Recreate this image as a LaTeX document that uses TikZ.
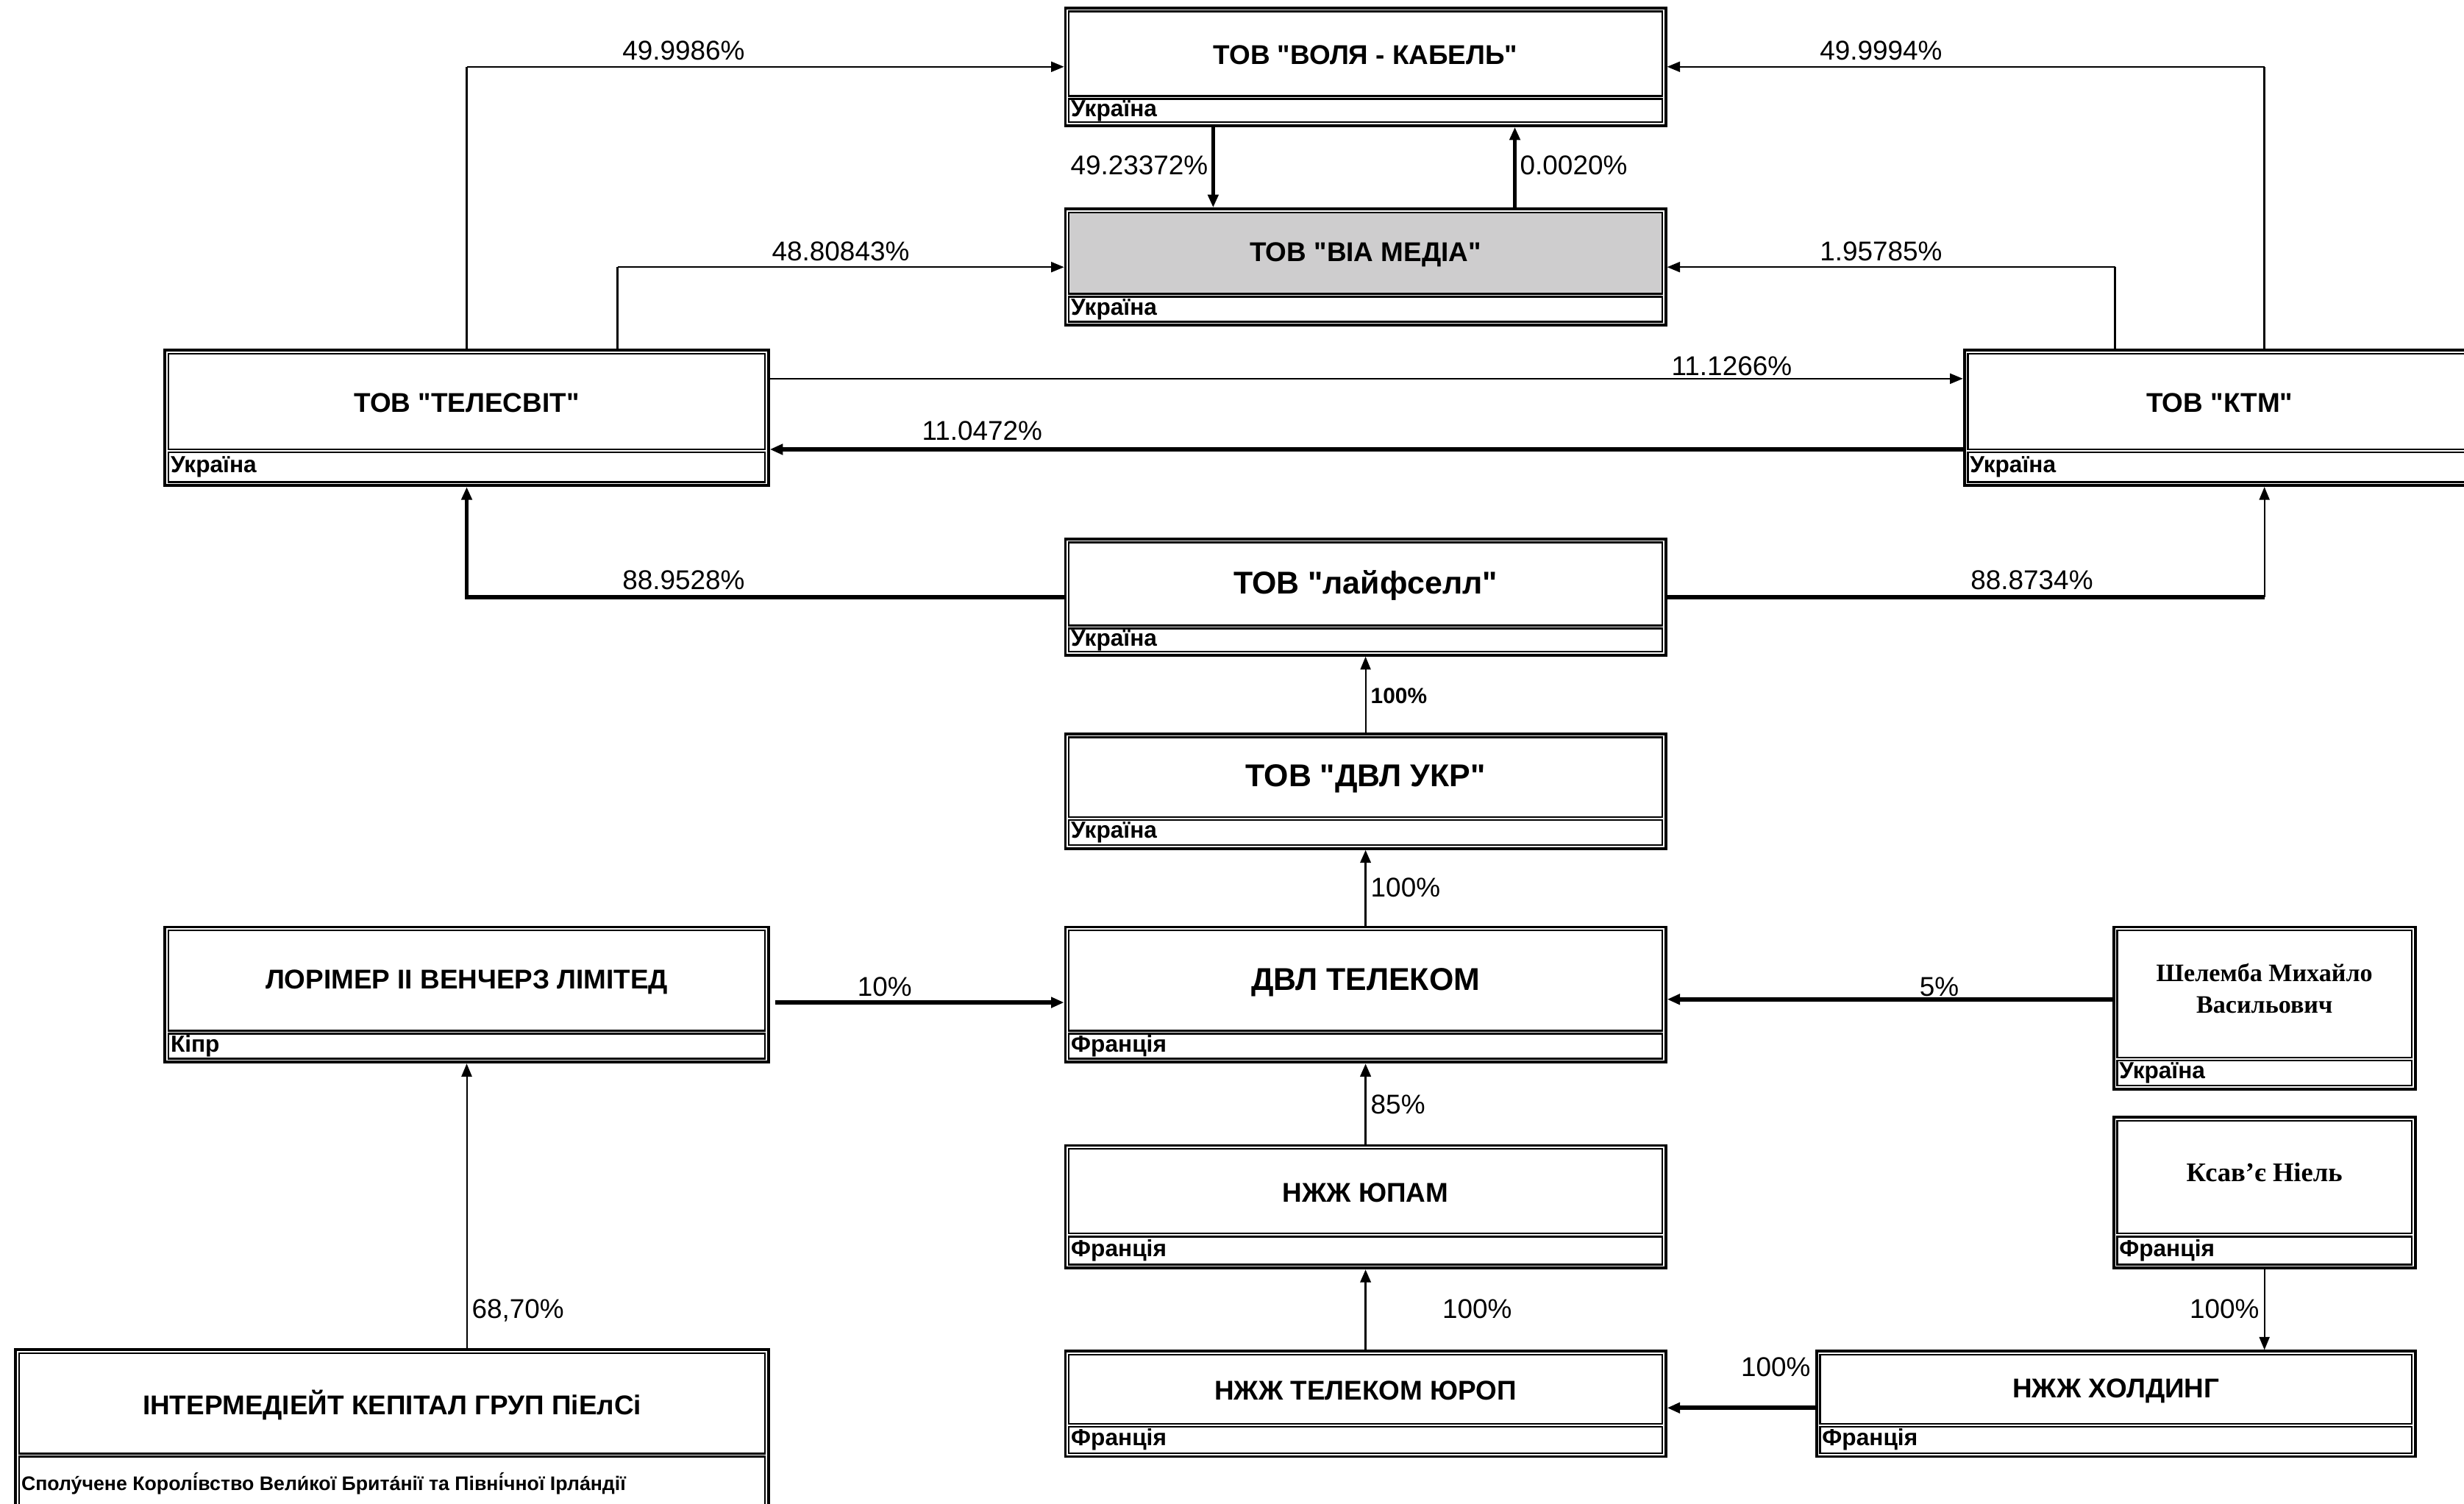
\documentclass[tikz,border=0pt]{standalone}
\usepackage{fontspec}
\setmainfont{Liberation Sans}[Ligatures=TeXOff]
\newfontfamily\serifb{Liberation Serif}[Ligatures=TeXOff]
\usetikzlibrary{fit,arrows.meta}
\definecolor{viagray}{RGB}{206,205,206}
\tikzset{
  outerbox/.style={draw, line width=1.1pt, inner sep=0pt},
  innerbox/.style={draw, line width=0.7pt, inner sep=0pt},
  titletext/.style={font=\fontsize{10.5}{12}\selectfont\bfseries, inner sep=0pt, align=center},
  bigtitle/.style={font=\fontsize{12.2}{14}\selectfont\bfseries},
  persontext/.style={font=\fontsize{10}{12.5}\selectfont\serifb\bfseries, inner sep=0pt, align=center},
  countrytext/.style={font=\fontsize{9}{10}\selectfont\bfseries, inner sep=1pt, anchor=west},
  pct/.style={font=\fontsize{10.5}{12}\selectfont, inner sep=0pt},
  pctb/.style={font=\fontsize{8.5}{10}\selectfont\bfseries, inner sep=0pt},
  tip/.style={-{Triangle[length=5pt,width=4pt]}},
  lthin/.style={line width=0.55pt},
  lmed/.style={line width=1.0pt},
  lthick/.style={line width=1.6pt},
  cthin/.style={tip, lthin},
  cmed/.style={tip, lmed},
  cthick/.style={tip, lthick},
}
% name, x1, y1, x2, y2, ydiv, title style, title, country
\newcommand\entbox[9]{%
  \node[outerbox, fit={(#2,#3) (#4,#5)}] (#1) {};
  \node[innerbox, fit={(#2+2.2,#3+2.2) (#4-2.2,#6-0.95)}] (#1-t) {};
  \node[innerbox, fit={(#2+2.2,#6+0.95) (#4-2.2,#5-2.2)}] (#1-c) {};
  \node[titletext, #7] (#1-tl) at ([yshift=-0.02cm]#1-t.center) {#8};
  \node[countrytext] (#1-cl) at (#1-c.west) {#9};
}
\begin{document}
\begin{tikzpicture}[x=0.021365cm, y=-0.021365cm]
\useasboundingbox (0,0) rectangle (1568,957);
\fill[white] (0,0) rectangle (1568,957);

\fill[viagray] (680.2,135.2) rectangle (1057.8,187.05);
\entbox{volya}{678}{5}{1060}{80}{62}{}{ТОВ "ВОЛЯ - КАБЕЛЬ"}{Україна}
\entbox{via}{678}{133}{1060}{207}{188}{}{ТОВ "ВІА МЕДІА"}{Україна}
\entbox{tel}{105}{223}{489}{309}{287}{}{ТОВ "ТЕЛЕСВІТ"}{Україна}
\entbox{ktm}{1250}{223}{1575}{309}{287}{}{ТОВ "КТМ"}{Україна}
\entbox{life}{678}{343}{1060}{417}{399}{bigtitle}{ТОВ "лайфселл"}{Україна}
\entbox{dvlukr}{678}{467}{1060}{540}{521}{bigtitle}{ТОВ "ДВЛ УКР"}{Україна}
\entbox{lor}{105}{590}{489}{676}{657}{}{ЛОРІМЕР ІІ ВЕНЧЕРЗ ЛІМІТЕД}{Кіпр}
\entbox{dvl}{678}{590}{1060}{676}{657}{bigtitle}{ДВЛ ТЕЛЕКОМ}{Франція}
\entbox{shel}{1345}{590}{1537}{693}{674}{}{}{Україна}
\entbox{ksav}{1345}{711}{1537}{807}{786}{}{}{Франція}
\entbox{yupam}{678}{729}{1060}{807}{786}{}{НЖЖ ЮПАМ}{Франція}
\entbox{tele}{678}{860}{1060}{927}{907}{}{НЖЖ ТЕЛЕКОМ ЮРОП}{Франція}
\entbox{hold}{1156}{860}{1537}{927}{907}{}{НЖЖ ХОЛДИНГ}{Франція}
\entbox{inter}{10}{859}{489}{964}{926}{}{ІНТЕРМЕДІЕЙТ КЕПІТАЛ ГРУП ПіЕлСі}{}

\node[persontext, font=\fontsize{9.7}{12.3}\selectfont\serifb\bfseries] (shel-p) at ([yshift=0.08cm]shel-t.center) {Шелемба Михайло\\Васильович};
\node[persontext, font=\fontsize{10.4}{12.5}\selectfont\serifb\bfseries] (ksav-p) at ([yshift=0.06cm]ksav-t.center) {Ксав’є Ніель};
\node[countrytext, font=\fontsize{7.6}{9}\selectfont\bfseries] (inter-cc) at (inter-c.west) {Сполу́чене Королі́вство Вели́кої Брита́нії та Півні́чної Ірла́ндії};

% helper coordinates
\coordinate (x393) at (393,0);
\coordinate (x1346) at (1346,0);
\coordinate (x1441) at (1441,0);
\coordinate (x772) at (772,0);
\coordinate (x964) at (964,0);
\coordinate (y241) at (0,241);
\coordinate (y286) at (0,286);
\coordinate (y638) at (0,638);
\coordinate (y636) at (0,636);
\coordinate (y896) at (0,896);

% corner points
\coordinate (k1) at (tel.north |- volya.west);
\coordinate (k2) at (x393 |- via.west);
\coordinate (k3) at (x1441 |- volya.east);
\coordinate (k4) at (x1346 |- via.east);
\coordinate (k5) at (x1441 |- life.east);

% connectors
\draw[lmed] (tel.north) -- (k1);
\draw[cthin] (k1) -- (volya.west);
\draw[lmed] (tel.north -| x393) -- (k2);
\draw[cthin] (k2) -- (via.west);
\draw[lmed] (ktm.north -| x1441) -- (k3);
\draw[cthin] (k3) -- (volya.east);
\draw[lmed] (ktm.north -| x1346) -- (k4);
\draw[cthin] (k4) -- (via.east);
\draw[cthick] (volya.south -| x772) -- (via.north -| x772);
\draw[cthick] (via.north -| x964) -- (volya.south -| x964);
\draw[cthin] (tel.east |- y241) -- (ktm.west |- y241);
\draw[cthick] (ktm.west |- y286) -- (tel.east |- y286);
\draw[cthick] (life.west) -| (tel.south);
\draw[lthick] (life.east) -- (k5);
\draw[cthin] (k5) -- (ktm.south -| x1441);
\draw[cthin] (dvlukr.north) -- (life.south);
\draw[cmed] (dvl.north) -- (dvlukr.south);
\draw[cthick, shorten <=2pt] (lor.east |- y638) -- (dvl.west |- y638);
\draw[cthick] (shel.west |- y636) -- (dvl.east |- y636);
\draw[cmed] (yupam.north) -- (dvl.south);
\draw[cmed] (tele.north) -- (yupam.south);
\draw[cthin] (ksav.south) -- (hold.north -| ksav.south);
\draw[cthick] (hold.west |- y896) -- (tele.east |- y896);
\draw[cthin] (inter.north -| lor.south) -- (lor.south);

% labels
\node[pct] (p1) at (435,32) {49.9986\%};
\node[pct] (p2) at (535,160) {48.80843\%};
\node[pct] (p3) at (1197,32) {49.9994\%};
\node[pct] (p4) at (1197,160) {1.95785\%};
\node[pct, anchor=east] (p5) at (769,105) {49.23372\%};
\node[pct, anchor=west] (p6) at (967,105) {0.0020\%};
\node[pct] (p7) at (1102,233) {11.1266\%};
\node[pct] (p8) at (625,274) {11.0472\%};
\node[pct] (p9) at (435,369) {88.9528\%};
\node[pct] (p10) at (1293,369) {88.8734\%};
\node[pctb, anchor=west] (p11) at (872,443) {100\%};
\node[pct, anchor=west] (p12) at (872,565) {100\%};
\node[pct] (p13) at (563,628) {10\%};
\node[pct] (p14) at (1234,628) {5\%};
\node[pct, anchor=west] (p15) at (872,703) {85\%};
\node[pct] (p16) at (940,833) {100\%};
\node[pct, anchor=east] (p17) at (1438,833) {100\%};
\node[pct] (p18) at (1130,870) {100\%};
\node[pct, anchor=west] (p19) at (300,834) {68,70\%};
\end{tikzpicture}
\end{document}
